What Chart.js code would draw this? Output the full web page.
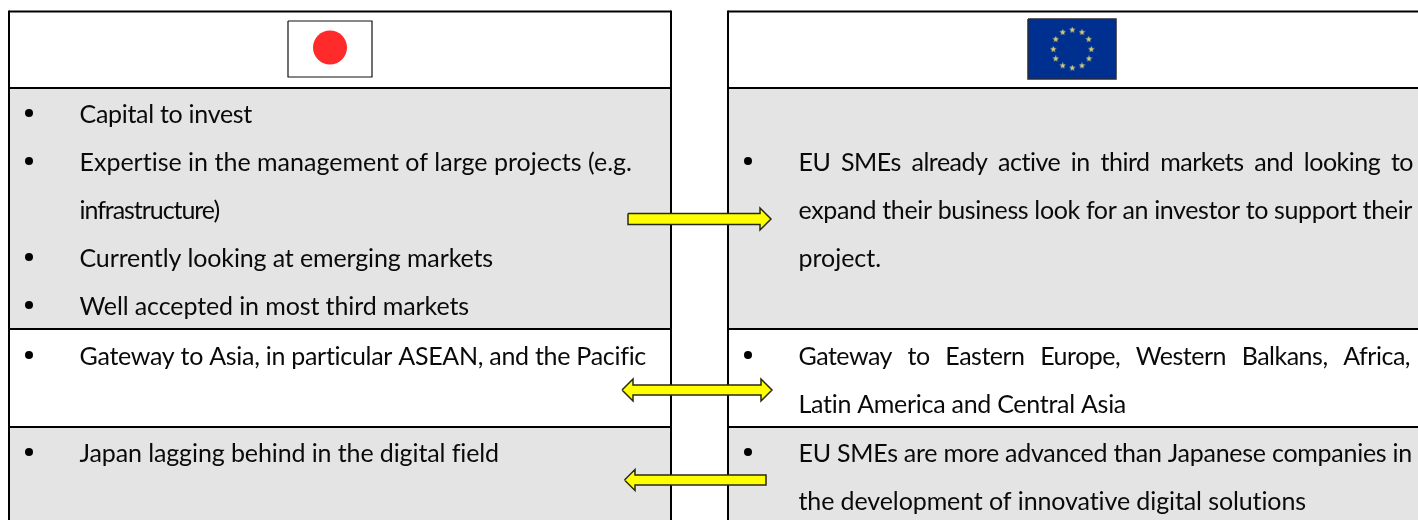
<!DOCTYPE html>
<html>
<head>
<meta charset="utf-8">
<title>Japan and EU SMEs</title>
<script src="https://cdn.jsdelivr.net/npm/chart.js@4/dist/chart.umd.min.js"></script>
<style>
  html, body { margin: 0; padding: 0; background: #fff; overflow: hidden; }
  #diagram { display: block; }
</style>
</head>
<body>
<canvas id="diagram" width="1418" height="520"></canvas>
<script>
// ── Content ──
const LEFT_LINES = [
  'Capital to invest',
  'Expertise in the management of large projects (e.g.',
  'infrastructure)',
  'Currently looking at emerging markets',
  'Well accepted in most third markets',
  'Gateway to Asia, in particular ASEAN, and the Pacific',
  'Japan lagging behind in the digital field',
];
const LEFT_BASE = [123, 171, 219, 267, 315, 365, 462];
const LEFT_END  = [252, 632, 219, 493, 469, 646, 499];
const LEFT_JUSTIFIED = [false, false, false, false, false, false, false];

const RIGHT_LINES = [
  'EU SMEs already active in third markets and looking to',
  'expand their business look for an investor to support their',
  'project.',
  'Gateway to Eastern Europe, Western Balkans, Africa,',
  'Latin America and Central Asia',
  'EU SMEs are more advanced than Japanese companies in',
  'the development of innovative digital solutions',
];
const RIGHT_BASE = [171, 219, 267, 365, 413, 462, 510];
const RIGHT_END  = [1413, 1412, 881, 1410, 1126, 1412, 1306];
const RIGHT_JUSTIFIED = [true, false, false, true, false, false, false];

const LEFT_BULLETS_Y  = [113, 161, 257, 305, 355, 452];
const RIGHT_BULLETS_Y = [161, 355, 452];

const PANEL_X = [[9, 671], [728, 1420]];
const ROW_Y   = [11.5, 88, 329, 427, 522];
const ROW_FILL = ['#ffffff', '#e4e4e4', '#ffffff', '#e4e4e4'];

const ARROW_RIGHT = [[628,213.5],[760,213.5],[760,208],[771,219],[760,230],[760,224.5],[628,224.5]];
const ARROW_BOTH  = [[622,390],[633,379],[633,385],[761,385],[761,379],[772,390],[761,401],[761,395],[633,395],[633,401]];
const ARROW_LEFT  = [[624.5,480],[635,469.5],[635,475],[766,475],[766,485],[635,485],[635,490.5]];

const JP_FLAG = [[288,21],[372,21],[372,77],[288,77]];
const JP_SUN  = [{ x: 330, y: 47.5 }];
const EU_FLAG = [[1028,19],[1116,19],[1116,79],[1028,79]];
const EU_STARS = [
  [1072.3,30],[1082,32.3],[1088.7,39.3],[1091.3,49.3],[1089,58.7],[1082,65.7],
  [1072.3,68],[1062.7,65.7],[1055.7,58.7],[1053.3,49.3],[1055.7,39.3],[1062.7,32.3],
];

const FONT = '25px Lato';
const XY = ([x, y]) => ({ x, y });

function closed(points) {
  return [...points, points[0]].map(XY);
}

function shape(points, fill, line, width, order) {
  return {
    type: 'line',
    data: closed(points),
    backgroundColor: fill,
    borderColor: line,
    borderWidth: width,
    fill: 'shape',
    pointRadius: 0,
    tension: 0,
    clip: false,
    order,
  };
}

function rule(points, order) {
  return {
    type: 'line',
    data: points.map(XY),
    borderColor: '#000',
    borderWidth: 2,
    pointRadius: 0,
    tension: 0,
    clip: false,
    order,
  };
}

function dots(data, color, radius, style, order) {
  return {
    type: 'scatter',
    data,
    pointStyle: style,
    pointRadius: radius,
    backgroundColor: color,
    borderColor: color,
    borderWidth: 0,
    clip: false,
    order,
  };
}

function starSprite() {
  const c = document.createElement('canvas');
  c.width = c.height = 7;
  const g = c.getContext('2d');
  g.fillStyle = '#d6cc78';
  g.beginPath();
  for (let i = 0; i < 10; i++) {
    const r = i % 2 ? 1.4 : 3.4;
    const a = -Math.PI / 2 + i * Math.PI / 5;
    g[i ? 'lineTo' : 'moveTo'](3.5 + r * Math.cos(a), 3.5 + r * Math.sin(a));
  }
  g.closePath();
  g.fill();
  return c;
}

const datasets = [];

// ── Panels, back to front ──
PANEL_X.forEach(([x0, x1]) => {
  ROW_FILL.forEach((fill, i) => {
    const y0 = ROW_Y[i], y1 = ROW_Y[i + 1];
    datasets.push(shape([[x0, y0], [x1, y0], [x1, y1], [x0, y1]], fill, 'transparent', 0, 9));
  });
  datasets.push(rule([[x0, ROW_Y[0] - 1], [x0, 522]], 8));
  if (x1 < 1418) datasets.push(rule([[x1, ROW_Y[0] - 1], [x1, 522]], 8));
  ROW_Y.slice(0, 4).forEach(y => datasets.push(rule([[x0, y], [x1, y]], 8)));
});

// ── Flags ──
datasets.push(shape(JP_FLAG, '#ffffff', '#111111', 1.2, 7));
datasets.push(dots(JP_SUN, '#ff2a2a', 17, 'circle', 6));
datasets.push(shape(EU_FLAG, '#00308f', '#2a2a3a', 1.5, 7));
datasets.push(dots(EU_STARS.map(XY), '#d6cc78', 3.5, starSprite(), 6));

// ── Bullets ──
datasets.push(dots(LEFT_BULLETS_Y.map(y => ({ x: 29, y })), '#000', 4, 'circle', 5));
datasets.push(dots(RIGHT_BULLETS_Y.map(y => ({ x: 748, y })), '#000', 4, 'circle', 5));

// ── Arrows ──
[ARROW_RIGHT, ARROW_BOTH, ARROW_LEFT].forEach(a => {
  datasets.push(shape(a, '#ffff00', '#2a2a10', 1.5, 1));
});

// ── Text: justified lines stretch the word gaps, the others the letter gaps ──
const textPlugin = {
  id: 'panelText',
  afterDatasetsDraw(chart) {
    const { ctx, scales: { x, y } } = chart;
    const column = (lines, base, end, justified, left) => {
      lines.forEach((line, i) => {
        const x0 = x.getPixelForValue(left);
        const target = x.getPixelForValue(end[i]) - x0;
        ctx.wordSpacing = '0px';
        ctx.letterSpacing = justified[i] ? '-0.5px' : '0px';
        const natural = ctx.measureText(line).width;
        if (justified[i]) {
          ctx.wordSpacing = (target - natural) / (line.split(' ').length - 1) + 'px';
        } else {
          ctx.letterSpacing = (target - natural) / line.length + 'px';
        }
        ctx.fillText(line, x0, y.getPixelForValue(base[i]));
      });
    };
    ctx.save();
    ctx.font = FONT;
    ctx.fillStyle = '#0a0a0a';
    ctx.textBaseline = 'alphabetic';
    ctx.textRendering = 'optimizeSpeed';
    column(LEFT_LINES, LEFT_BASE, LEFT_END, LEFT_JUSTIFIED, 79.5);
    column(RIGHT_LINES, RIGHT_BASE, RIGHT_END, RIGHT_JUSTIFIED, 798.5);
    ctx.restore();
  },
};

new Chart(document.getElementById('diagram'), {
  data: { datasets },
  plugins: [textPlugin],
  options: {
    responsive: false,
    animation: false,
    events: [],
    layout: { padding: 0, autoPadding: false },
    plugins: { legend: { display: false }, tooltip: { enabled: false } },
    scales: {
      x: { type: 'linear', min: 0, max: 1418, display: false },
      y: { type: 'linear', min: 0, max: 520, reverse: true, display: false },
    },
  },
});
</script>
</body>
</html>
